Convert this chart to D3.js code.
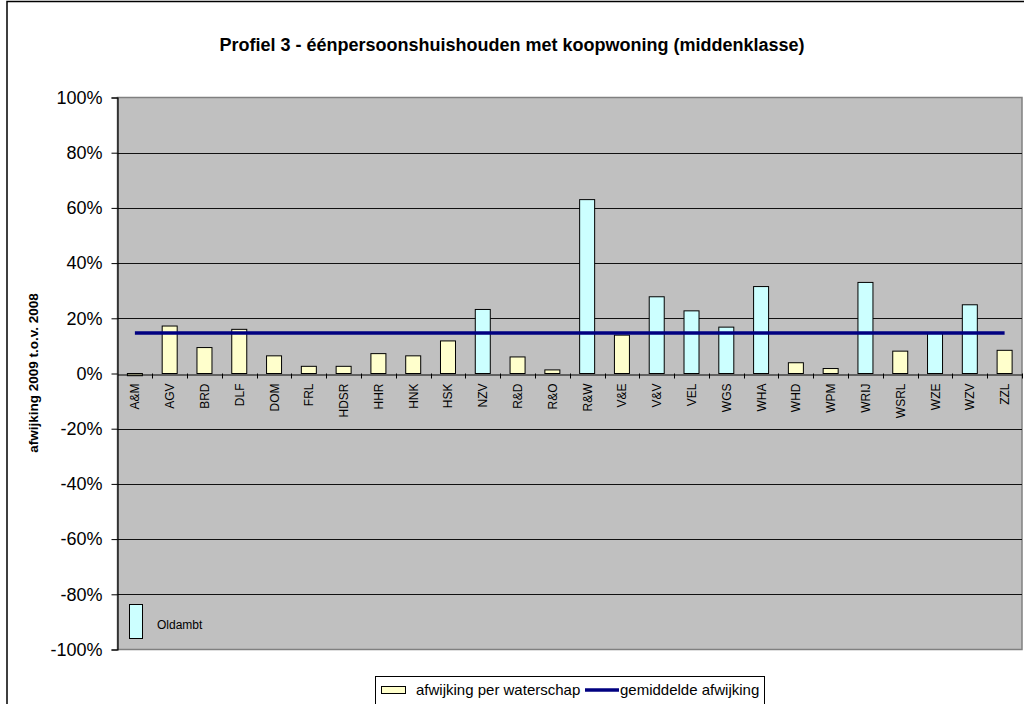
<!DOCTYPE html>
<html><head><meta charset="utf-8">
<script src="https://cdn.jsdelivr.net/npm/d3@7"></script>
<style>
html,body{margin:0;padding:0;background:#fff;}
text{font-family:"Liberation Sans",Arial,sans-serif;}
</style></head>
<body>
<svg id="chart" width="1024" height="704"></svg>
<script>
const categories = ["A&M","AGV","BRD","DLF","DOM","FRL","HDSR","HHR","HNK","HSK","NZV","R&D","R&O","R&W","V&E","V&V","VEL","WGS","WHA","WHD","WPM","WRIJ","WSRL","WZE","WZV","ZZL"];
const values = [-0.008,0.172,0.094,0.160,0.064,0.026,0.026,0.072,0.064,0.118,0.232,0.060,0.013,0.630,0.139,0.278,0.227,0.168,0.315,0.039,0.018,0.330,0.081,0.148,0.249,0.084];
const oldambt = [false,false,false,false,false,false,false,false,false,false,true,false,false,true,false,true,true,true,true,false,false,true,false,true,true,false];
const averageValue = 0.147;
const yTicks = [-1,-0.8,-0.6,-0.4,-0.2,0,0.2,0.4,0.6,0.8,1];
const titleText = "Profiel 3 - éénpersoonshuishouden met koopwoning (middenklasse)";
const yTitle = "afwijking 2009 t.o.v. 2008";
const seriesNames = ["afwijking per waterschap","gemiddelde afwijking"];
const highlightLabel = "Oldambt";

const svg = d3.select("#chart");
const L = 117.5, R = 1022, T = 97.5, B = 649.5;

// outer frame
svg.append("rect").attr("x",7).attr("y",1.5).attr("width",1030).attr("height",720)
  .attr("fill","#fff").attr("stroke","#000").attr("stroke-width",1.5);

const x = d3.scaleBand().domain(categories).range([L,R]).paddingInner(0).paddingOuter(0);
const y = d3.scaleLinear().domain([-1,1]).range([B,T]);

// plot area
svg.append("rect").attr("x",L).attr("y",T).attr("width",R-L).attr("height",B-T)
  .attr("fill","#C0C0C0").attr("stroke","#808080").attr("stroke-width",1.5);

// gridlines
svg.append("g").selectAll("line").data(yTicks.filter(d=>d>-1 && d<1 && d!==0)).join("line")
  .attr("x1",L).attr("x2",R).attr("y1",d=>Math.round(y(d))+0.5).attr("y2",d=>Math.round(y(d))+0.5)
  .attr("stroke","#111").attr("stroke-width",1);

// y axis
const yAxis = d3.axisLeft(y).tickValues(yTicks).tickFormat(d=>Math.round(d*100)+"%").tickSizeOuter(0).tickSize(6).tickPadding(9);
const gy = svg.append("g").attr("transform",`translate(${L},0)`).call(yAxis);
gy.select(".domain").attr("stroke","#000").attr("stroke-width",1.2);
gy.selectAll(".tick line").attr("stroke","#000");
gy.selectAll(".tick text").attr("font-size","18px").attr("fill","#000").attr("font-family","'Liberation Sans',Arial,sans-serif");

// bars
const bw = 15;
svg.append("g").selectAll("rect").data(categories).join("rect")
  .attr("x",(d)=>x(d)+x.bandwidth()/2-bw/2)
  .attr("y",(d,i)=>y(Math.max(0,values[i])))
  .attr("width",bw)
  .attr("height",(d,i)=>Math.abs(y(values[i])-y(0)))
  .attr("fill",(d,i)=>oldambt[i]?"#CCFFFF":"#FFFFCC")
  .attr("stroke","#000").attr("stroke-width",1);

// x axis (at 0)
const xAxis = d3.axisBottom(x).tickSize(0).tickFormat("");
const gx = svg.append("g").attr("transform",`translate(0,${Math.round(y(0))+0.5})`).call(xAxis);
gx.select(".domain").attr("stroke","#000").attr("stroke-width",1.2);
// ticks between categories
svg.append("g").selectAll("line").data(categories.slice(1).concat(["__end"])).join("line")
  .attr("x1",(d,i)=>Math.round(L+(i+1)*x.bandwidth())+0.5)
  .attr("x2",(d,i)=>Math.round(L+(i+1)*x.bandwidth())+0.5)
  .attr("y1",y(0)).attr("y2",y(0)+5).attr("stroke","#000");
// rotated labels
svg.append("g").selectAll("text").data(categories).join("text")
  .attr("transform",d=>`translate(${x(d)+x.bandwidth()/2+4.5},${y(0)+10}) rotate(-90)`)
  .attr("text-anchor","end").attr("font-size","12px").attr("fill","#000").text(d=>d);

// average line
svg.append("line")
  .attr("x1",x(categories[0])+x.bandwidth()/2).attr("x2",x(categories[categories.length-1])+x.bandwidth()/2)
  .attr("y1",y(averageValue)).attr("y2",y(averageValue))
  .attr("stroke","#000080").attr("stroke-width",3.5);

// Oldambt marker
svg.append("rect").attr("x",129.5).attr("y",604.5).attr("width",13).attr("height",34)
  .attr("fill","#CCFFFF").attr("stroke","#000").attr("stroke-width",1);
svg.append("text").attr("x",157).attr("y",628.5).attr("font-size","12px").attr("fill","#000").text(highlightLabel);

// title
svg.append("text").attr("x",512).attr("y",51).attr("text-anchor","middle")
  .attr("font-size","18px").attr("font-weight","bold").attr("fill","#000").text(titleText);

// y title
svg.append("text").attr("transform",`translate(38,373) rotate(-90)`).attr("text-anchor","middle")
  .attr("font-size","13.5px").attr("font-weight","bold").attr("fill","#000").text(yTitle);

// legend
const lg = svg.append("g");
lg.append("rect").attr("x",375.5).attr("y",676.5).attr("width",389).attr("height",32)
  .attr("fill","#fff").attr("stroke","#000").attr("stroke-width",1);
lg.append("rect").attr("x",381.5).attr("y",686.5).attr("width",24).attr("height",7)
  .attr("fill","#FFFFCC").attr("stroke","#000").attr("stroke-width",1);
lg.append("text").attr("x",416).attr("y",695).attr("font-size","15px").attr("fill","#000").text(seriesNames[0]);
lg.append("line").attr("x1",585).attr("x2",619).attr("y1",690).attr("y2",690)
  .attr("stroke","#000080").attr("stroke-width",3.5);
lg.append("text").attr("x",620).attr("y",695).attr("font-size","15px").attr("fill","#000").text(seriesNames[1]);
</script>
</body></html>
